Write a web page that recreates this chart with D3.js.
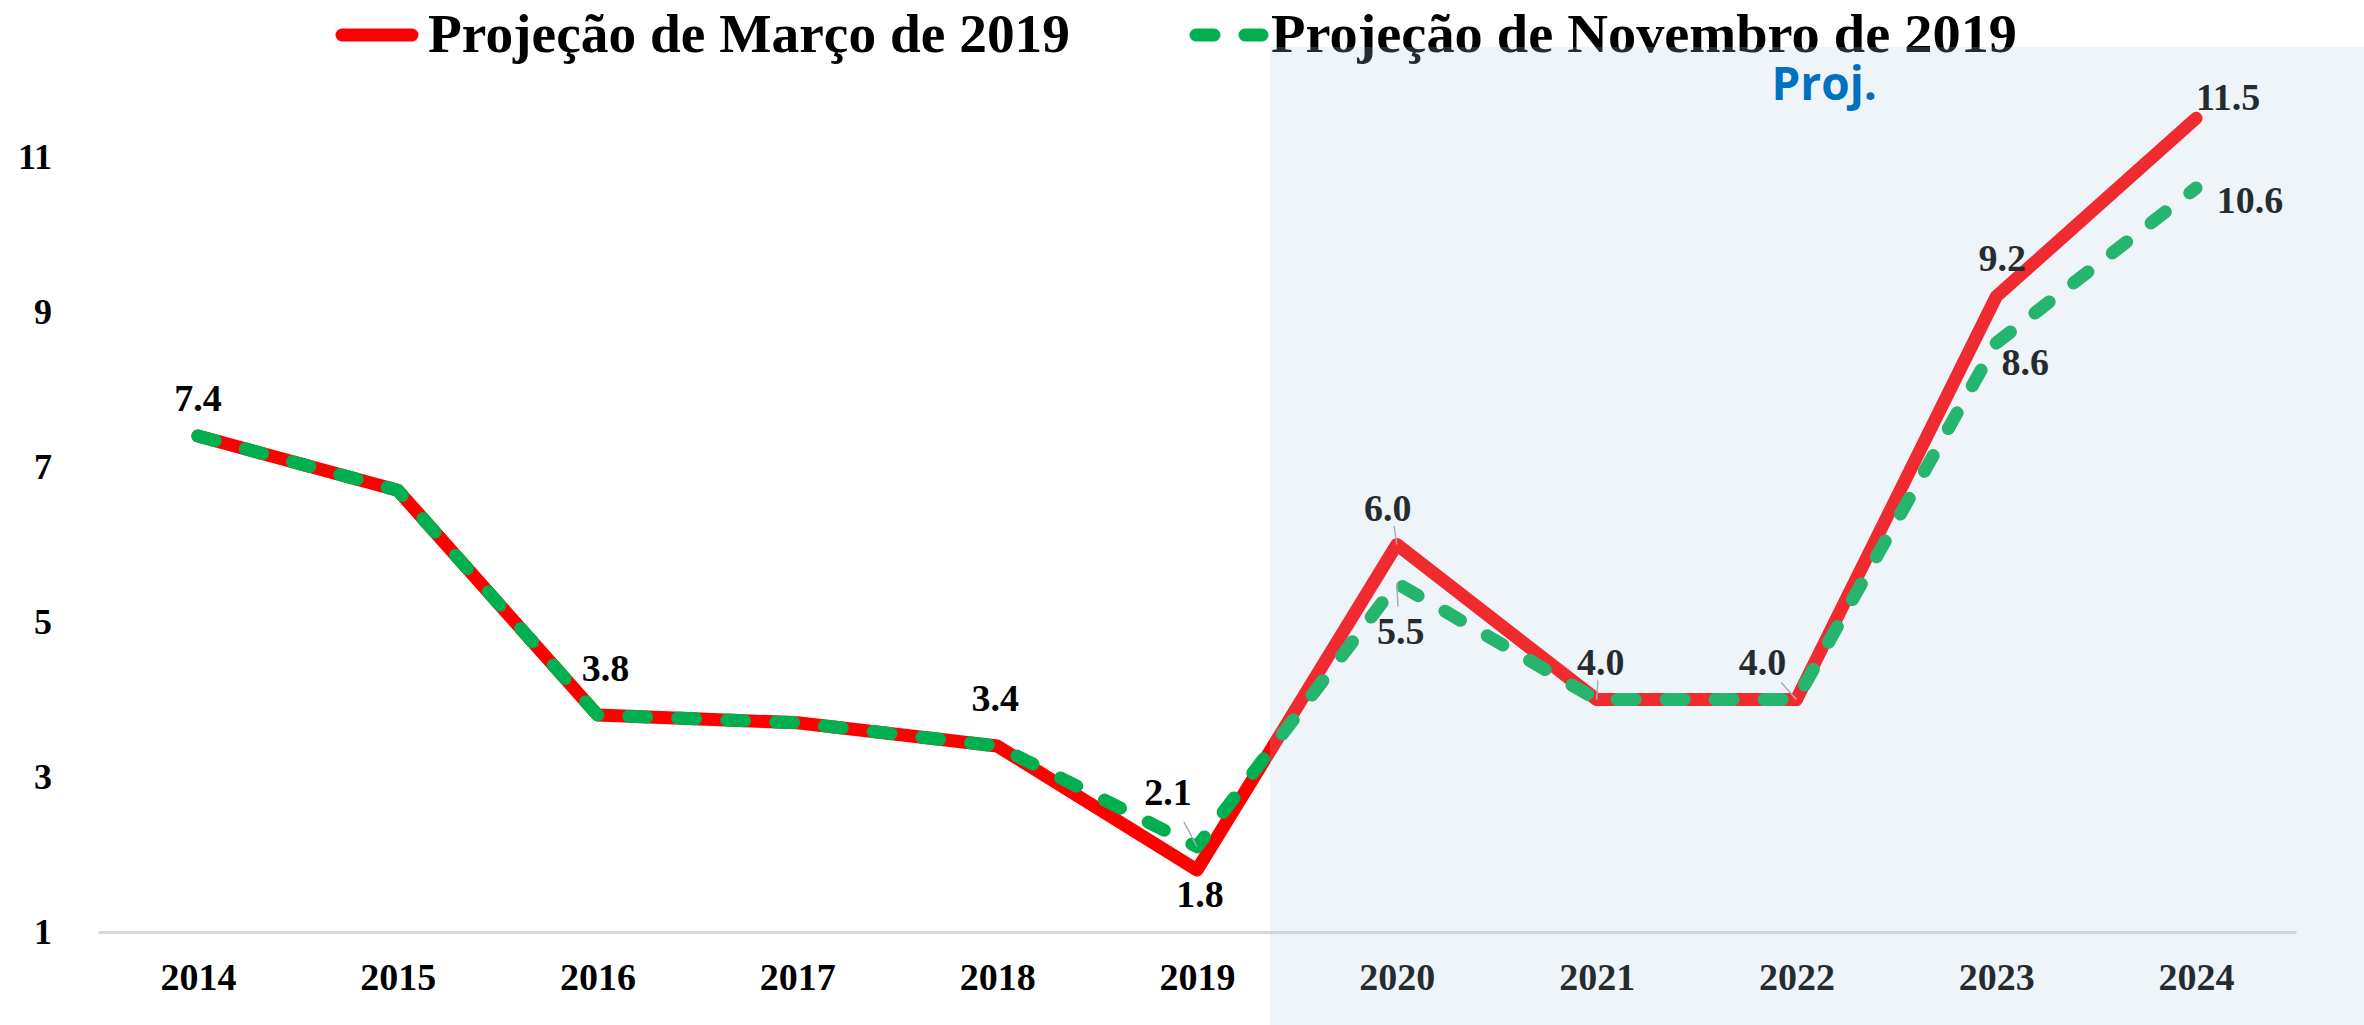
<!DOCTYPE html>
<html>
<head>
<meta charset="utf-8">
<script src="https://cdn.jsdelivr.net/npm/d3@7"></script>
<style>
    html, body { margin: 0; padding: 0; background: #fff; }
    svg { display: block; }
    .serif { font-family: "Liberation Serif", "DejaVu Serif", serif; font-weight: 700; }
</style>
</head>
<body>
<div id="chart"></div>
<script>
// Projeções (mar/2019 vs nov/2019)
const years = ['2014', '2015', '2016', '2017', '2018', '2019', '2020', '2021', '2022', '2023', '2024'];
const marcoValues = [7.4, 6.7, 3.8, 3.7, 3.4, 1.8, 6.0, 4.0, 4.0, 9.2, 11.5];
const novembroValues = [7.4, 6.7, 3.8, 3.7, 3.4, 2.1, 5.5, 4.0, 4.0, 8.6, 10.6];
const yTicks = [1, 3, 5, 7, 9, 11];
const seriesNames = ['Projeção de Março de 2019', 'Projeção de Novembro de 2019'];
const projStart = '2020';

(function () {
    'use strict';

    const W = 2364, H = 1025;
    const RED = '#ff0000', GREEN = '#00b050';

    const svg = d3.select('#chart').append('svg').attr('width', W).attr('height', H);

    const x = d3.scalePoint().domain(years).range([98, 2296]).padding(0.5);
    const y = d3.scaleLinear().domain([1, 11]).range([932, 157]);

    // Axes
    svg.append('g').attr('transform', `translate(0,${y(1)})`)
        .call(d3.axisBottom(x).tickSize(0).tickSizeOuter(0).tickPadding(31))
        .call(g => {
            g.select('.domain').attr('stroke', '#d9d9d9').attr('stroke-width', 3);
            g.selectAll('text').attr('class', 'serif').attr('font-size', '38px').attr('fill', '#000');
        });
    svg.append('g').attr('transform', 'translate(52,0)')
        .call(d3.axisLeft(y).tickValues(yTicks).tickSize(0).tickPadding(0))
        .call(g => {
            g.select('.domain').remove();
            g.selectAll('text').attr('class', 'serif').attr('font-size', '36px').attr('fill', '#000');
        });

    const line = vals => d3.line()
        .x((d, i) => x(years[i]))
        .y(d => y(d))(vals);

    svg.append('path').attr('d', line(marcoValues))
        .attr('fill', 'none').attr('stroke', RED).attr('stroke-width', 13)
        .attr('stroke-linejoin', 'round').attr('stroke-linecap', 'round');
    svg.append('path').attr('d', line(novembroValues))
        .attr('fill', 'none').attr('stroke', GREEN).attr('stroke-width', 13)
        .attr('stroke-dasharray', '18 31')
        .attr('stroke-linejoin', 'round').attr('stroke-linecap', 'round');

    // Data labels: [series values, index, dx, dy, leader?]
    const labels = [
        [marcoValues, 0, 0, -38],
        [marcoValues, 2, 8, -47],
        [marcoValues, 4, -2, -48],
        [marcoValues, 5, 3, 24],
        [novembroValues, 5, -29, -55, true],
        [marcoValues, 6, -9, -37, true],
        [novembroValues, 6, 4, 47, true],
        [marcoValues, 7, 4, -38, true],
        [marcoValues, 8, -34, -38, true],
        [marcoValues, 9, 6, -39],
        [novembroValues, 9, 29, 19],
        [marcoValues, 10, 32, -22],
        [novembroValues, 10, 54, 12]
    ];
    labels.forEach(([vals, i, dx, dy, leader]) => {
        const px = x(years[i]), py = y(vals[i]);
        if (leader) {
            const lx = px + dx * 0.45, ly = py + dy * 0.45;
            svg.append('line')
                .attr('x1', px).attr('y1', py).attr('x2', Math.abs(dx) < 12 ? px + dx * 0.3 : lx)
                .attr('y2', Math.abs(dx) < 12 ? py + dy * 0.5 : ly)
                .attr('stroke', '#a6a6a6').attr('stroke-width', 1.5);
        }
        svg.append('text').attr('class', 'serif')
            .attr('x', px + dx).attr('y', py + dy)
            .attr('dy', '0.35em').attr('text-anchor', 'middle')
            .attr('font-size', '38px').attr('fill', '#000')
            .text(vals[i].toFixed(1));
    });

    // Legend
    const leg = svg.append('g');
    leg.append('line').attr('x1', 342).attr('x2', 412).attr('y1', 35).attr('y2', 35)
        .attr('stroke', RED).attr('stroke-width', 13).attr('stroke-linecap', 'round');
    leg.append('text').attr('class', 'serif').attr('x', 428).attr('y', 52)
        .attr('font-size', '54px').attr('fill', '#000')
        .attr('textLength', 642).attr('lengthAdjust', 'spacingAndGlyphs')
        .text(seriesNames[0]);
    leg.append('line').attr('x1', 1196).attr('x2', 1262).attr('y1', 35).attr('y2', 35)
        .attr('stroke', GREEN).attr('stroke-width', 13).attr('stroke-linecap', 'round')
        .attr('stroke-dasharray', '18 31');
    leg.append('text').attr('class', 'serif').attr('x', 1271).attr('y', 52)
        .attr('font-size', '54px').attr('fill', '#000')
        .attr('textLength', 746).attr('lengthAdjust', 'spacingAndGlyphs')
        .text(seriesNames[1]);

    // Projection shading, laid over lines and labels
    const shadeX = x(projStart) - x.step() * 0.635;
    svg.append('rect')
        .attr('x', shadeX).attr('y', 47)
        .attr('width', W - shadeX).attr('height', H - 47)
        .attr('fill', '#b4cae2').attr('opacity', 0.21);

    svg.append('text')
        .attr('x', x('2022') - 25).attr('y', 100)
        .attr('font-family', '"Open Sans", "Noto Sans", sans-serif').attr('font-weight', 700)
        .attr('font-size', '46px').attr('fill', '#0070c0')
        .text('Proj.');
})();
</script>
</body>
</html>
